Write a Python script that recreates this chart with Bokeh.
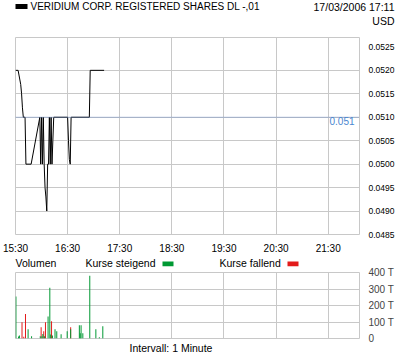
from bokeh.plotting import figure
from bokeh.models import FixedTicker, PrintfTickFormatter, Span, Label, BoxAnnotation, Range1d
from bokeh.layouts import column
from bokeh.embed import file_html
from bokeh.resources import INLINE

# ---------------- data ----------------
title_text = "VERIDIUM CORP. REGISTERED SHARES DL -,01"
date_text = "17/03/2006 17:11"
currency_text = "USD"
interval_text = "Intervall: 1 Minute"
legend_volume = "Volumen"
legend_up = "Kurse steigend"
legend_down = "Kurse fallend"

# minutes after 15:30
hour_ticks = [0, 60, 120, 180, 240, 300, 360]
hour_labels = ["15:30", "16:30", "17:30", "18:30", "19:30", "20:30", "21:30"]

price_ticks = [0.0485, 0.0490, 0.0495, 0.0500, 0.0505, 0.0510, 0.0515, 0.0520, 0.0525]
price_grid = [0.0490, 0.0495, 0.0500, 0.0505, 0.0510, 0.0515, 0.0520]
ref_price = 0.0510
ref_label = "0.051"

price_min = [0, 3, 4, 6, 7, 8, 9, 11, 12, 18, 28, 29, 30, 31, 32, 33, 34, 35, 36,
             37, 38, 39, 40, 41, 42, 43, 44, 60, 61, 62, 63, 64, 85, 86, 102]
price_val = [0.0520, 0.0520, 0.0519, 0.0517, 0.0515, 0.0512, 0.0510, 0.0510, 0.0500,
             0.0500, 0.0510, 0.0500, 0.0510, 0.0500, 0.0510, 0.0500, 0.0495, 0.0493,
             0.0490, 0.0500, 0.0500, 0.0510, 0.0500, 0.0510, 0.0500, 0.0505, 0.0510,
             0.0510, 0.0505, 0.0501, 0.0500, 0.0510, 0.0510, 0.0520, 0.0520]

up_min = [0, 3, 4, 14, 18, 28, 30, 31, 33, 37, 39, 40, 42, 45, 47, 52, 59, 63,
          73, 74, 75, 77, 85, 92, 96, 100]
up_vol = [254, 12, 18, 56, 14, 14, 14, 28, 14, 134, 308, 24, 18, 56, 44, 26, 44, 56,
          80, 32, 80, 32, 380, 56, 8, 74]
down_min = [7, 9, 11, 29, 32, 34, 41, 63]
down_vol = [98, 10, 148, 68, 44, 98, 104, 68]

vol_ticks = [0, 100, 200, 300, 400]
vol_labels = ["0", "100 T", "200 T", "300 T", "400 T"]

# ---------------- style ----------------
FONT = "Liberation Sans"
GRID = "#c8c8c8"
GREEN = "#009933"
RED = "#e31b1b"
X_RANGE = (0, 396)
W = 400


def text_strip(h, margin=None):
    f = figure(width=W, height=h, output_backend="svg", toolbar_location=None,
               x_axis_type=None, y_axis_type=None, frame_align=False,
               x_range=Range1d(0, W), y_range=Range1d(0, h),
               min_border_left=0, min_border_right=0, min_border_top=0, min_border_bottom=0)
    if margin is not None:
        f.margin = margin
    f.grid.visible = False
    f.outline_line_color = None
    f.background_fill_alpha = 0
    f.border_fill_alpha = 0
    return f


def add_text(f, x, y, txt, align="left", size="10.5px", color="black"):
    f.add_layout(Label(x=x, y=y, x_units="screen", y_units="screen", text=txt,
                       text_align=align, text_baseline="middle", text_font=FONT,
                       text_font_size=size, text_color=color))


def add_box(f, l, r, b, t, color):
    f.add_layout(BoxAnnotation(left=l, right=r, bottom=b, top=t,
                               left_units="screen", right_units="screen",
                               bottom_units="screen", top_units="screen",
                               fill_color=color, fill_alpha=1, line_color=None))


# ---------------- header ----------------
HH = 36
head = text_strip(HH)
add_box(head, 15, 27, HH - 8.5, HH - 3.5, "black")
add_text(head, 30, HH - 6, title_text, size="10px")
add_text(head, 394, HH - 6, date_text, align="right")
add_text(head, 394, HH - 20.5, currency_text, align="right")

# ---------------- price chart ----------------
p1 = figure(width=W, height=220, output_backend="svg", toolbar_location=None,
            x_range=Range1d(*X_RANGE), y_range=Range1d(0.0485, 0.0527),
            y_axis_location="right", min_border_left=15, min_border_right=41,
            min_border_top=1, min_border_bottom=20)
p1.outline_line_color = GRID
p1.background_fill_color = "white"
p1.border_fill_alpha = 0

p1.xaxis.ticker = FixedTicker(ticks=hour_ticks)
p1.xaxis.major_label_overrides = dict(zip(hour_ticks, hour_labels))
p1.yaxis.ticker = FixedTicker(ticks=price_ticks)
p1.yaxis.formatter = PrintfTickFormatter(format="%.4f")
for ax in (p1.xaxis, p1.yaxis):
    ax.axis_line_color = None
    ax.major_tick_line_color = None
    ax.minor_tick_line_color = None
    ax.major_label_text_font = FONT
    ax.major_label_text_color = "black"
p1.xaxis.major_label_text_font_size = "10px"
p1.xaxis.major_label_standoff = 2
p1.yaxis.major_label_text_font_size = "8.5px"
p1.yaxis.major_label_standoff = 3

p1.xgrid.ticker = FixedTicker(ticks=hour_ticks[1:])
p1.ygrid.ticker = FixedTicker(ticks=price_grid)
p1.xgrid.grid_line_color = GRID
p1.ygrid.grid_line_color = GRID

p1.add_layout(Span(location=ref_price, dimension="width", line_color="#6f8fc8",
                   line_dash="1 1", line_width=1))
p1.line(price_min, price_val, line_color="black", line_width=1)

p1.add_layout(Label(x=339, x_units="screen", y=ref_price, y_units="data", text=ref_label,
                    text_align="right", text_baseline="top", text_font=FONT,
                    text_font_size="10px", text_color="#4a86d0"))

# ---------------- legend row ----------------
LH = 15
leg = text_strip(LH)
add_text(leg, 15, LH - 6.7, legend_volume)
add_text(leg, 85, LH - 6.7, legend_up)
add_box(leg, 162, 173, LH - 9.7, LH - 5, GREEN)
add_text(leg, 219, LH - 6.7, legend_down)
add_box(leg, 287, 298, LH - 9.7, LH - 5, RED)

# ---------------- volume chart ----------------
p2 = figure(width=W, height=79, output_backend="svg", toolbar_location=None,
            x_range=Range1d(*X_RANGE), y_range=Range1d(0, 400),
            y_axis_location="right", min_border_left=15, min_border_right=41,
            min_border_top=7, min_border_bottom=6)
p2.margin = (-6, 0, 0, 0)
p2.outline_line_color = GRID
p2.background_fill_color = "white"
p2.border_fill_alpha = 0
p2.xaxis.visible = False
p2.yaxis.ticker = FixedTicker(ticks=vol_ticks)
p2.yaxis.major_label_overrides = dict(zip(vol_ticks, vol_labels))
p2.yaxis.axis_line_color = None
p2.yaxis.major_tick_line_color = None
p2.yaxis.minor_tick_line_color = None
p2.yaxis.major_label_text_font = FONT
p2.yaxis.major_label_text_font_size = "10px"
p2.yaxis.major_label_standoff = 3
p2.xgrid.ticker = FixedTicker(ticks=hour_ticks[1:])
p2.ygrid.ticker = FixedTicker(ticks=vol_ticks[1:-1])
p2.xgrid.grid_line_color = GRID
p2.ygrid.grid_line_color = GRID

p2.vbar(x=[m + 0.5 for m in down_min], top=down_vol, bottom=0, width=1.15,
        fill_color=RED, line_color=None)
p2.vbar(x=[m + 0.5 for m in up_min], top=up_vol, bottom=0, width=1.15,
        fill_color=GREEN, line_color=None)

# ---------------- footer ----------------
FH = 13
foot = text_strip(FH, margin=(-5, 0, 0, 0))
add_text(foot, 170.5, FH - 8, interval_text, align="center")

layout = column(head, p1, leg, p2, foot, spacing=0)
open("out.html", "w").write(file_html(layout, INLINE))
